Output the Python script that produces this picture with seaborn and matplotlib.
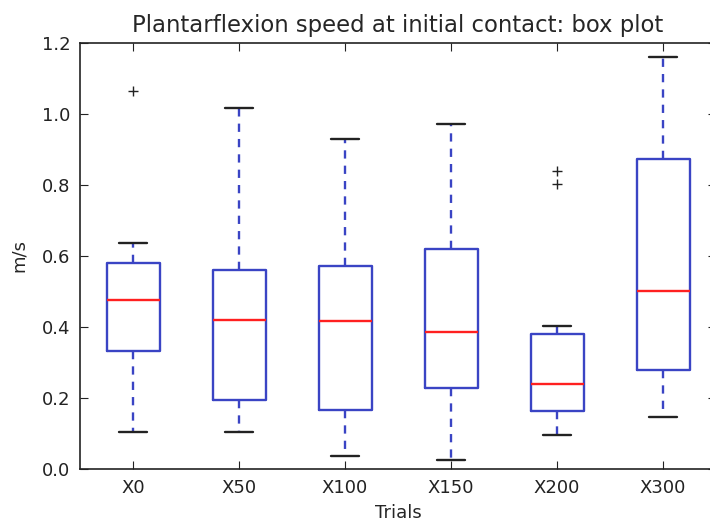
import numpy as np
import pandas as pd
import matplotlib
matplotlib.use("Agg")
import matplotlib.pyplot as plt
import seaborn as sns

# estimated samples per trial, chosen so the box stats match the picture
x0 = [0.103, 0.25, 0.333, 0.41, 0.476, 0.53, 0.581, 0.636, 1.066]
x50 = [0.103, 0.15, 0.194, 0.30, 0.421, 0.50, 0.561, 0.80, 1.016]
x100 = [0.038, 0.10, 0.165, 0.30, 0.418, 0.50, 0.573, 0.75, 0.929]
x150 = [0.026, 0.15, 0.229, 0.30, 0.387, 0.50, 0.620, 0.80, 0.972]
x200 = [0.097, 0.12, 0.14, 0.164, 0.19, 0.22, 0.239, 0.28, 0.33, 0.379, 0.402, 0.803, 0.840]
x300 = [0.147, 0.20, 0.279, 0.40, 0.502, 0.70, 0.872, 1.00, 1.161]
trials = ["X0", "X50", "X100", "X150", "X200", "X300"]

samples = [x0, x50, x100, x150, x200, x300]
df = pd.DataFrame({
    "Trials": np.repeat(trials, [len(s) for s in samples]),
    "m/s": np.concatenate(samples),
})

sns.set_style("ticks")
plt.rcParams.update({
    "xtick.direction": "in", "ytick.direction": "in",
    "xtick.top": True, "ytick.right": True,
    "xtick.major.size": 6, "ytick.major.size": 6,
    "axes.linewidth": 1.2,
})
plt.rcParams["font.family"] = ["DejaVu Sans"]

fig = plt.figure(figsize=(7.10, 5.21), dpi=100)
ax = fig.add_axes([80 / 710, 52 / 521, 636 / 710, 426 / 521])

blue = "#3a44c4"
sns.boxplot(data=df, x="Trials", y="m/s", ax=ax, order=trials, width=0.5,
            fill=False, color=blue, linewidth=1.7, whis=1.5,
            boxprops=dict(color=blue),
            whiskerprops=dict(color=blue, linestyle=(0, (3.5, 3))),
            capprops=dict(color="#222222"),
            medianprops=dict(color="#ff2020"),
            flierprops=dict(marker="+", markeredgecolor="#222222", markersize=7,
                            markeredgewidth=1.0),
            capwidths=0.27)

ax.set_ylim(0, 1.2)
ax.set_xlim(-0.5, 5.5)
ax.set_yticks(np.arange(0, 1.21, 0.2))
ax.set_yticklabels([f"{v:.1f}" for v in np.arange(0, 1.21, 0.2)])
ax.tick_params(labelsize=13, colors="#222222", pad=7)
ax.set_xlabel("Trials", fontsize=13, labelpad=5)
ax.set_ylabel("m/s", fontsize=13, labelpad=10)
ax.set_title("Plantarflexion speed at initial contact: box plot", fontsize=16.4, pad=8)
for s in ax.spines.values():
    s.set_visible(True)
    s.set_color("#222222")

fig.savefig("out.png", dpi=100)
